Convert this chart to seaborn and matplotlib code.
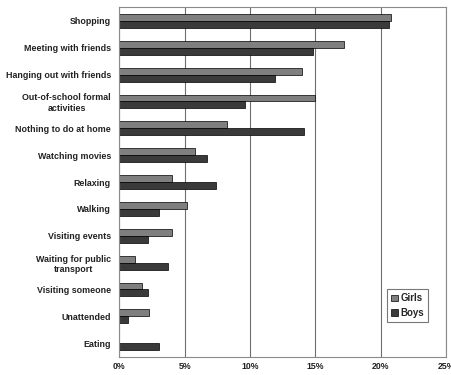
import numpy as np
import pandas as pd
import matplotlib
matplotlib.use("Agg")
import matplotlib.pyplot as plt
import seaborn as sns
from matplotlib.ticker import FuncFormatter, FixedLocator

# %% datos
activities = [
    "Shopping", "Meeting with friends", "Hanging out with friends",
    "Out-of-school formal\nactivities", "Nothing to do at home",
    "Watching movies", "Relaxing", "Walking", "Visiting events",
    "Waiting for public\ntransport", "Visiting someone", "Unattended", "Eating",
]
girls = [20.8, 17.2, 14.0, 15.0, 8.2, 5.8, 4.0, 5.2, 4.0, 1.2, 1.7, 2.3, 0.0]
boys = [20.65, 14.85, 11.9, 9.6, 14.1, 6.7, 7.4, 3.0, 2.2, 3.7, 2.2, 0.7, 3.0]

df = pd.DataFrame({
    "actividad": activities * 2,
    "pct": girls + boys,
    "grupo": ["Girls"] * len(girls) + ["Boys"] * len(boys),
})

# %% figura
sns.set_style("white")
plt.rcParams["font.family"] = ["Liberation Sans", "DejaVu Sans"]

fig = plt.figure(figsize=(4.52, 3.75), dpi=100)
ax = fig.add_axes([0.264, 0.049, 0.723, 0.931])

ax.set_axisbelow(True)
ax.grid(axis="x", color="#6e6e6e", linewidth=0.8)

sns.barplot(data=df, y="actividad", x="pct", hue="grupo", order=activities,
            hue_order=["Girls", "Boys"], palette=["#7f7f7f", "#3a3a3a"],
            orient="h", width=0.52, edgecolor="black", linewidth=0.5, ax=ax)

ax.set_xlim(0, 25)
ax.set_ylim(len(activities) - 0.5, -0.5)
ax.set_xticks(np.arange(0, 26, 5))
ax.xaxis.set_major_formatter(FuncFormatter(lambda v, _: f"{v:.0f}%"))
ax.set_xlabel("")
ax.set_ylabel("")

ax.tick_params(axis="x", labelsize=6.3, length=0, pad=4)
ax.tick_params(axis="y", which="major", labelsize=6.4, length=0, pad=6)
ax.yaxis.set_minor_locator(FixedLocator(np.arange(-0.5, len(activities), 1)))
ax.tick_params(axis="y", which="minor", length=3, color="#808080", width=0.8)
for lab in ax.get_xticklabels() + ax.get_yticklabels():
    lab.set_fontweight("bold")
    lab.set_color("#222222")
for lab in ax.get_yticklabels():
    lab.set_multialignment("center")

for sp in ax.spines.values():
    sp.set_color("#8a8a8a")
    sp.set_linewidth(0.8)

leg = ax.legend(loc="lower right", bbox_to_anchor=(0.96, 0.085), fontsize=7,
                frameon=True, fancybox=False, handlelength=0.7, handleheight=0.7,
                handletextpad=0.3, borderpad=0.4, labelspacing=0.5)
leg.get_frame().set_edgecolor("#555555")
leg.get_frame().set_linewidth(0.8)
for t in leg.get_texts():
    t.set_fontweight("bold")

plt.savefig("out.png", dpi=100)
